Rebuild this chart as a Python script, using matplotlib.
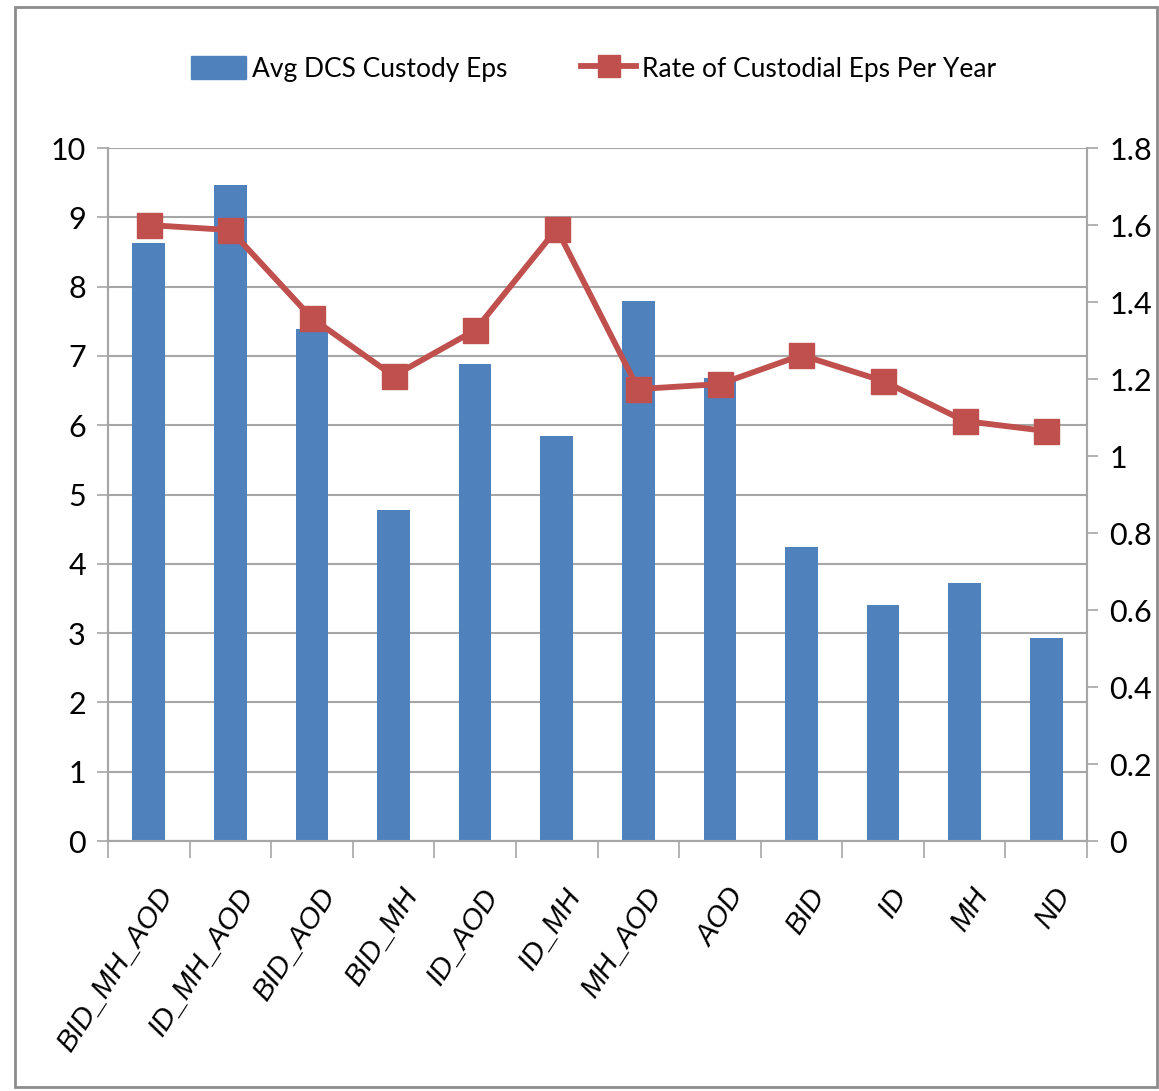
import matplotlib
matplotlib.use("Agg")
import matplotlib.pyplot as plt
from matplotlib import font_manager
from matplotlib.patches import Rectangle
from matplotlib.lines import Line2D
import numpy as np

categories = ['BID_MH_AOD', 'ID_MH_AOD', 'BID_AOD', 'BID_MH', 'ID_AOD', 'ID_MH',
              'MH_AOD', 'AOD', 'BID', 'ID', 'MH', 'ND']
avg_eps = [8.63, 9.47, 7.39, 4.78, 6.88, 5.84, 7.80, 6.68, 4.24, 3.41, 3.72, 2.93]
rate_per_year = [1.60, 1.587, 1.358, 1.208, 1.327, 1.59, 1.174, 1.187, 1.262, 1.195, 1.091, 1.065]

plt.rcParams['font.family'] = ['Lato', 'DejaVu Sans']

# pick an installed italic face for the category labels, if there is one
italic_family, italic_style = 'Lato', 'normal'
for fam in ['Liberation Sans', 'Open Sans', 'Roboto', 'Noto Sans', 'Lato', 'DejaVu Sans', 'Inter']:
    if any(f.name == fam and f.style in ('italic', 'oblique')
           for f in font_manager.fontManager.ttflist):
        italic_family, italic_style = fam, 'italic'
        break

bar_color = '#4F81BD'
line_color = '#C0504D'
grid_color = '#a6a6a6'

fig = plt.figure(figsize=(11.59, 10.91), dpi=100)
ax = fig.add_axes([0.0932, 0.2291, 0.8447, 0.6352])
ax2 = ax.twinx()

x = np.arange(len(categories))
ax.bar(x, avg_eps, width=0.4, color=bar_color, zorder=2)
ax2.plot(x, rate_per_year, color=line_color, lw=4.2, marker='s', markersize=18,
         markerfacecolor=line_color, markeredgecolor=line_color, zorder=3)

ax.set_xlim(-0.5, len(categories) - 0.5)
ax.set_ylim(0, 10)
ax.set_yticks(range(0, 11))
ax2.set_ylim(0, 1.8)
ax2.set_yticks(np.arange(0, 1.81, 0.2))
ax2.set_yticklabels(['0', '0.2', '0.4', '0.6', '0.8', '1', '1.2', '1.4', '1.6', '1.8'])

ax.yaxis.grid(True, color=grid_color, lw=1.5, zorder=0)
ax.set_axisbelow(True)

for a in (ax, ax2):
    for s in a.spines.values():
        s.set_color(grid_color)
        s.set_linewidth(1.5)
    a.spines['top'].set_visible(False)
    a.tick_params(axis='y', colors=grid_color, length=8, width=1.2,
                  labelsize=22, labelcolor='black', pad=8)

# category ticks sit between bars
ax.set_xticks(np.arange(-0.5, len(categories), 1.0))
ax.set_xticklabels([])
ax.tick_params(axis='x', which='major', colors=grid_color, length=12, width=1.2)

# slanted category labels
lbl_trans = ax.get_xaxis_transform()
for xi, name in zip(x, categories):
    ax.annotate(name, xy=(xi, 0), xycoords=lbl_trans, xytext=(6, -42),
                textcoords='offset pixels', rotation=57, rotation_mode='anchor',
                ha='right', va='top', fontsize=21, family=italic_family,
                style=italic_style, annotation_clip=False)

handles = [Rectangle((0, 0), 1, 1, color=bar_color),
           Line2D([], [], color=line_color, lw=4.2, marker='s', markersize=16)]
fig.legend(handles, ['Avg DCS Custody Eps', 'Rate of Custodial Eps Per Year'],
           loc='center', bbox_to_anchor=(0.512, 0.937), ncol=2, frameon=False,
           fontsize=19, handlelength=2.1, handleheight=1.0, handletextpad=0.2,
           columnspacing=2.8)

# outer chart frame
fig.patches.append(Rectangle((0.013, 0.004), 0.985, 0.99, transform=fig.transFigure,
                             fill=False, edgecolor='#8c8c8c', lw=2))

fig.savefig('out.png', dpi=100)
